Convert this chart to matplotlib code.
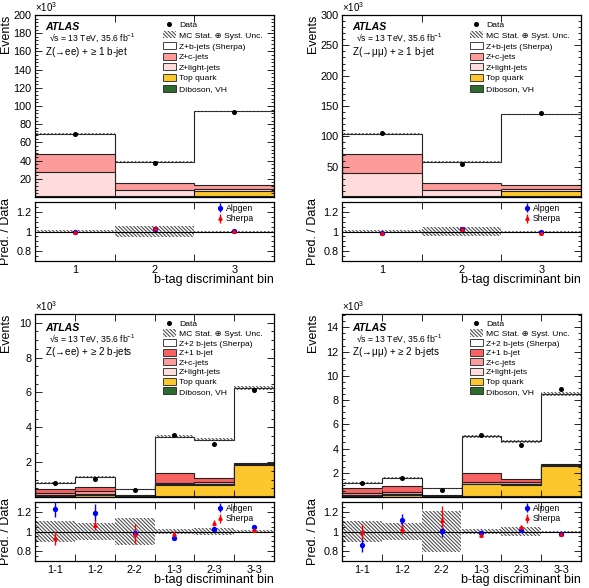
import matplotlib
matplotlib.use('Agg')
import matplotlib.pyplot as plt
import numpy as np
from matplotlib.patches import Patch
from matplotlib.lines import Line2D
from matplotlib.ticker import MultipleLocator, FuncFormatter, FixedLocator

plt.rcParams['font.family'] = ['Liberation Sans', 'DejaVu Sans']
plt.rcParams['mathtext.default'] = 'regular'
plt.rcParams['hatch.linewidth'] = 0.75
plt.rcParams['axes.linewidth'] = 0.9

# ---------------- data (values in units of 10^3 events) ----------------
bins_1b = ['1', '2', '3']
bins_2b = ['1-1', '1-2', '2-2', '1-3', '2-3', '3-3']

# Z(->ee) + >=1 b-jet
ee1_diboson = [0.5, 0.3, 0.6]
ee1_top = [0.8, 0.6, 5.5]
ee1_light = [26.0, 7.0, 2.5]
ee1_charm = [20.0, 8.0, 4.5]
ee1_zb = [21.7, 22.1, 80.9]
ee1_data = [69.5, 37.0, 93.0]
ee1_unc = [0.02, 0.03, 0.01]
ee1_band = [0.02, 0.055, 0.006]
ee1_alpgen = [0.995, 1.03, 1.01]
ee1_alpgen_err = [0.004, 0.005, 0.003]
ee1_sherpa = [0.99, 1.035, 1.01]
ee1_sherpa_err = [0.004, 0.005, 0.003]

# Z(->mumu) + >=1 b-jet
mm1_diboson = [0.8, 0.5, 0.9]
mm1_top = [1.2, 0.9, 8.5]
mm1_light = [37.0, 9.6, 3.8]
mm1_charm = [32.0, 11.6, 6.1]
mm1_zb = [33.0, 34.4, 116.7]
mm1_data = [106.0, 55.0, 138.0]
mm1_unc = [0.02, 0.03, 0.01]
mm1_band = [0.02, 0.05, 0.006]
mm1_alpgen = [0.985, 1.03, 0.99]
mm1_alpgen_err = [0.004, 0.005, 0.003]
mm1_sherpa = [0.98, 1.03, 0.985]
mm1_sherpa_err = [0.004, 0.005, 0.003]

# Z(->ee) + >=2 b-jets
ee2_diboson = [0.01, 0.01, 0.005, 0.05, 0.05, 0.08]
ee2_top = [0.06, 0.10, 0.03, 0.65, 0.62, 1.75]
ee2_light = [0.05, 0.06, 0.01, 0.03, 0.05, 0.01]
ee2_charm = [0.12, 0.18, 0.03, 0.07, 0.12, 0.03]
ee2_z1b = [0.20, 0.25, 0.04, 0.57, 0.24, 0.07]
ee2_z2b = [0.35, 0.53, 0.325, 2.08, 2.21, 4.31]
ee2_data = [0.81, 1.06, 0.42, 3.55, 3.05, 6.15]
ee2_unc = [0.06, 0.05, 0.08, 0.025, 0.03, 0.02]
ee2_band = [0.11, 0.085, 0.14, 0.03, 0.04, 0.02]
ee2_alpgen = [1.224, 1.19, 0.983, 0.935, 1.024, 1.044]
ee2_alpgen_err = [0.075, 0.085, 0.04, 0.02, 0.02, 0.01]
ee2_sherpa = [0.935, 1.068, 0.976, 0.976, 1.088, 1.017]
ee2_sherpa_err = [0.07, 0.05, 0.10, 0.03, 0.03, 0.02]

# Z(->mumu) + >=2 b-jets
mm2_diboson = [0.02, 0.02, 0.01, 0.08, 0.08, 0.10]
mm2_top = [0.10, 0.12, 0.04, 0.97, 0.95, 2.48]
mm2_light = [0.08, 0.08, 0.02, 0.05, 0.05, 0.02]
mm2_charm = [0.15, 0.20, 0.04, 0.12, 0.12, 0.04]
mm2_z1b = [0.40, 0.45, 0.06, 0.75, 0.30, 0.08]
mm2_z2b = [0.39, 0.69, 0.55, 3.03, 3.08, 5.81]
mm2_data = [1.17, 1.53, 0.56, 5.10, 4.30, 8.90]
mm2_unc = [0.06, 0.05, 0.08, 0.025, 0.03, 0.02]
mm2_band = [0.11, 0.09, 0.21, 0.03, 0.045, 0.01]
mm2_alpgen = [0.858, 1.112, 1.01, 0.983, 1.02, 0.976]
mm2_alpgen_err = [0.07, 0.07, 0.07, 0.015, 0.015, 0.01]
mm2_sherpa = [0.993, 1.027, 1.12, 0.966, 1.044, 0.97]
mm2_sherpa_err = [0.08, 0.05, 0.14, 0.02, 0.02, 0.01]

# ---------------- styles ----------------
C_DIB = '#2e6b2e'
C_TOP = '#fcc72c'
C_LIGHT = '#ffdcdc'
C_CHARM = '#fd9a9a'
C_Z1B = '#f76262'
C_ZB = 'white'
HATCH = '\\' * 9
HCOL = '0.28'
W, H = 589, 588


def rect(x0, y0, x1, y1):
    return [x0 / W, 1 - y1 / H, (x1 - x0) / W, (y1 - y0) / H]


def no_zero(v, pos):
    if abs(v) < 1e-9:
        return ''
    return '%g' % v


def panel(fig, xl, xr, ytop, ybot, rtop, rbot, labels, comps, data, unc,
          band, alp, alp_err, she, she_err, ymax, ymaj, ymin, channel,
          lspace, ytxt):
    n = len(labels)
    edges = np.arange(n + 1) + 0.5
    centers = np.arange(1, n + 1)
    ax = fig.add_axes(rect(xl, ytop, xr, ybot))
    rx = fig.add_axes(rect(xl, rtop, xr, rbot))

    vals = [np.asarray(c[2], float) for c in comps]
    cums = np.cumsum(vals, axis=0)
    total = cums[-1]
    for k in range(len(comps) - 1, -1, -1):
        ax.stairs(cums[k], edges, baseline=0, fill=True,
                  color=comps[k][1], lw=0)
        ax.stairs(cums[k], edges, baseline=0, color='#222222', lw=0.8)
    u = np.asarray(unc)
    ax.bar(centers, 2 * u * total, bottom=total * (1 - u), width=1.0,
           fill=False, hatch=HATCH, edgecolor=HCOL, lw=0)
    ax.plot(centers, data, 'o', color='black', ms=2.6)

    ax.set_xlim(0.5, n + 0.5)
    ax.set_ylim(0, ymax)
    rx.set_xlim(0.5, n + 0.5)
    rx.set_ylim(0.7, 1.3)

    for a in (ax, rx):
        a.xaxis.set_major_locator(FixedLocator(centers))
        a.xaxis.set_minor_locator(FixedLocator(edges[1:-1]))
        a.tick_params(which='both', direction='in', top=True, right=True,
                      labelsize=7.8, width=0.6)
        a.tick_params(axis='y', which='major', length=5, pad=2.5)
        a.tick_params(axis='y', which='minor', length=2.5)
        a.tick_params(axis='x', which='major', length=0, pad=3)
        a.tick_params(axis='x', which='minor', length=5)
    ax.set_xticklabels([])
    rx.set_xticklabels(labels)
    ax.yaxis.set_major_locator(MultipleLocator(ymaj))
    ax.yaxis.set_minor_locator(MultipleLocator(ymin))
    ax.yaxis.set_major_formatter(FuncFormatter(no_zero))
    rx.yaxis.set_major_locator(MultipleLocator(0.2))
    rx.yaxis.set_minor_locator(MultipleLocator(0.05))
    rx.yaxis.set_major_formatter(FuncFormatter(lambda v, p: '%g' % round(v, 2)))

    ax.set_ylabel('Events', loc='top', fontsize=9)
    ax.yaxis.set_label_coords(-0.098, 1.0)
    rx.set_ylabel('Pred. / Data', fontsize=9)
    rx.yaxis.set_label_coords(-0.098, 0.5)
    rx.set_xlabel('b-tag discriminant bin', loc='right', fontsize=9,
                  labelpad=-0.5)

    ax.text(0.0, 1.005, r'$\times$10$^{3}$', transform=ax.transAxes,
            fontsize=7, ha='left', va='bottom')
    ax.text(0.043, ytxt[0], 'ATLAS', transform=ax.transAxes, fontsize=7.6,
            fontweight='bold', fontstyle='italic', va='center')
    ax.text(0.058, ytxt[1], '√s = 13 TeV, 35.6 fb$^{-1}$',
            transform=ax.transAxes, fontsize=6.2, va='center')
    ax.text(0.043, ytxt[2], channel, transform=ax.transAxes, fontsize=7.1,
            va='center')

    handles = [Line2D([], [], marker='o', color='black', ls='none', ms=2.6),
               Patch(facecolor='white', hatch=HATCH, edgecolor=HCOL, lw=0)]
    names = ['Data', 'MC Stat. ⊕ Syst. Unc.']
    for c in reversed(comps):
        handles.append(Patch(facecolor=c[1], edgecolor='#222222', lw=0.6))
        names.append(c[0])
    ax.legend(handles, names, loc='upper left', bbox_to_anchor=(0.535, 0.968),
              fontsize=6.1, frameon=False, handlelength=1.5, handleheight=0.9,
              labelspacing=lspace, borderpad=0, handletextpad=0.4,
              borderaxespad=0)

    b = np.asarray(band)
    rx.bar(centers, 2 * b, bottom=1 - b, width=1.0, fill=False, hatch=HATCH,
           edgecolor=HCOL, lw=0)
    rx.axhline(1.0, color='black', lw=0.8)
    ea = rx.errorbar(centers, alp, yerr=alp_err, fmt='o', color='blue',
                     ms=2.8, elinewidth=1.0, capsize=0)
    es = rx.errorbar(centers, she, yerr=she_err, fmt='^', color='red',
                     ms=2.4, elinewidth=1.0, capsize=0)
    rx.legend([ea, es], ['Alpgen', 'Sherpa'], loc='upper left',
              bbox_to_anchor=(0.765, 0.97), fontsize=6.2, frameon=False,
              handlelength=0.6, handletextpad=0.3, labelspacing=0.2,
              borderpad=0, borderaxespad=0)
    return ax, rx


fig = plt.figure(figsize=(W / 100, H / 100), dpi=100)

comps_ee1 = [('Diboson, VH', C_DIB, ee1_diboson), ('Top quark', C_TOP, ee1_top),
             ('Z+light-jets', C_LIGHT, ee1_light), ('Z+c-jets', C_CHARM, ee1_charm),
             ('Z+b-jets (Sherpa)', C_ZB, ee1_zb)]
comps_mm1 = [('Diboson, VH', C_DIB, mm1_diboson), ('Top quark', C_TOP, mm1_top),
             ('Z+light-jets', C_LIGHT, mm1_light), ('Z+c-jets', C_CHARM, mm1_charm),
             ('Z+b-jets (Sherpa)', C_ZB, mm1_zb)]
comps_ee2 = [('Diboson, VH', C_DIB, ee2_diboson), ('Top quark', C_TOP, ee2_top),
             ('Z+light-jets', C_LIGHT, ee2_light), ('Z+c-jets', C_CHARM, ee2_charm),
             ('Z+1 b-jet', C_Z1B, ee2_z1b), ('Z+2 b-jets (Sherpa)', C_ZB, ee2_z2b)]
comps_mm2 = [('Diboson, VH', C_DIB, mm2_diboson), ('Top quark', C_TOP, mm2_top),
             ('Z+light-jets', C_LIGHT, mm2_light), ('Z+c-jets', C_CHARM, mm2_charm),
             ('Z+1 b-jet', C_Z1B, mm2_z1b), ('Z+2 b-jets (Sherpa)', C_ZB, mm2_z2b)]

top_txt = (0.934, 0.872, 0.797)
bot_txt = (0.923, 0.866, 0.79)

panel(fig, 35, 274, 15, 197, 202, 261, bins_1b, comps_ee1, ee1_data, ee1_unc,
      ee1_band, ee1_alpgen, ee1_alpgen_err, ee1_sherpa, ee1_sherpa_err,
      200, 20, 4, r'Z($\!\rightarrow\!$ee) + ≥ 1 b-jet', 0.26, top_txt)
panel(fig, 342, 581, 15, 197, 202, 261, bins_1b, comps_mm1, mm1_data, mm1_unc,
      mm1_band, mm1_alpgen, mm1_alpgen_err, mm1_sherpa, mm1_sherpa_err,
      300, 50, 10, r'Z($\!\rightarrow\!$μμ) + ≥ 1 b-jet', 0.26, top_txt)
panel(fig, 35, 274, 314, 497, 502, 561, bins_2b, comps_ee2, ee2_data, ee2_unc,
      ee2_band, ee2_alpgen, ee2_alpgen_err, ee2_sherpa, ee2_sherpa_err,
      10.5, 2, 0.5, r'Z($\!\rightarrow\!$ee) + ≥ 2 b-jets', 0.14, bot_txt)
panel(fig, 342, 581, 314, 497, 502, 561, bins_2b, comps_mm2, mm2_data, mm2_unc,
      mm2_band, mm2_alpgen, mm2_alpgen_err, mm2_sherpa, mm2_sherpa_err,
      15.1, 2, 0.5, r'Z($\!\rightarrow\!$μμ) + ≥ 2 b-jets', 0.14, bot_txt)

fig.savefig('out.png', dpi=100)
